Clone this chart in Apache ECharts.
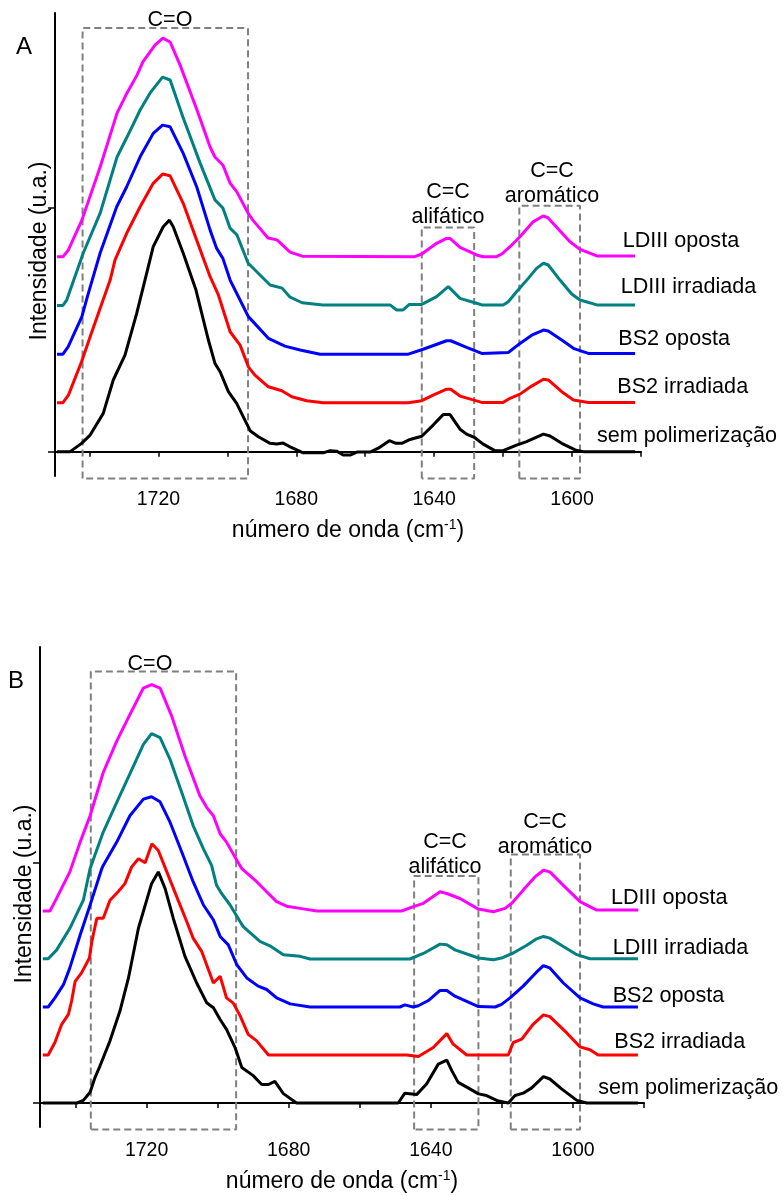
<!DOCTYPE html>
<html><head><meta charset="utf-8">
<script src="https://cdn.jsdelivr.net/npm/echarts@6/dist/echarts.min.js"></script>
<style>html,body{margin:0;padding:0;background:#fff}#c{width:783px;height:1196px}</style>
</head><body><div id="c"></div>
<script>
// ---------- data ----------
const seriesNames = ['LDIII oposta', 'LDIII irradiada', 'BS2 oposta', 'BS2 irradiada', 'sem polimerização'];
const seriesColors = ['#ff00ff', '#008080', '#0000ff', '#ff0000', '#000000'];
const xTickLabels = [1720, 1680, 1640, 1600];
const yTickValues = [0, 100];

// Panel A  [número de onda, intensidade]
const ldiiiOpostaA = [[1749.4,80],[1747.7,80],[1746.2,82.5],[1742.2,95],[1736.9,116.8],[1732,138.9],[1729.1,147.2],[1726.2,154.5],[1724.5,159.9],[1721,166.8],[1718.7,169.7],[1716.6,168.1],[1713.7,158.6],[1708.8,140.2],[1705,125],[1703.6,120.9],[1701.3,117.6],[1699.2,110.2],[1697.2,106.5],[1694,97.9],[1692.6,95],[1688.2,87.7],[1685.6,86.9],[1681.8,81.9],[1678.3,80.2],[1645.6,80],[1643.6,81.1],[1639.3,85.5],[1636.4,87.5],[1635.4,87.5],[1632.5,83.8],[1627.7,80.7],[1625.8,80],[1621.9,80],[1620.4,81.1],[1618,84.1],[1615.1,88.2],[1611.3,94.3],[1608.4,96.7],[1607,96],[1604.4,92],[1600.6,86.1],[1597.7,83],[1592.8,80.3],[1581.7,80.3]];
const ldiiiIrradiadaA = [[1749.4,60],[1747.7,60],[1746.6,62.2],[1741.8,81.5],[1736.9,97.9],[1732,120.9],[1729.1,129.1],[1725.3,140.2],[1722.4,147.2],[1718.8,153.7],[1716.6,152.5],[1712.9,137.3],[1707.9,118.4],[1703.6,103.3],[1701.3,100],[1699.2,91.7],[1697.2,88.9],[1694,77.4],[1691.4,73.7],[1687.6,68.4],[1684.1,67.1],[1681.8,63.4],[1678.3,61.1],[1672.3,60.2],[1652.8,60.2],[1650.9,58.1],[1649.1,58.1],[1647.2,60.4],[1643.6,60.4],[1639.3,63.6],[1635.9,67.7],[1632.5,62.9],[1627.7,60.9],[1626.2,60.2],[1620,60.2],[1618.5,61.5],[1616.1,65.6],[1612.7,71.1],[1610.3,75.2],[1608.3,77.3],[1606.9,76.6],[1603.5,70.4],[1600.1,64.7],[1597.7,62.2],[1592.8,60.2],[1581.7,60.2]];
const bs2OpostaA = [[1749.4,40],[1747.7,40],[1746.2,43],[1742.2,55.4],[1740.6,63.6],[1736.9,81.5],[1732.1,100.5],[1729.2,108.7],[1725.3,121],[1721.5,130.6],[1718.8,134],[1716.6,133.3],[1712.8,122.4],[1708.9,108.7],[1705,90.9],[1703.1,83.4],[1701.3,79.3],[1699.2,70.4],[1697.3,65],[1693.9,55.4],[1688.1,46.5],[1683.3,43.3],[1678.9,41.7],[1673.1,40],[1647.5,40],[1643.2,42],[1636.4,45.5],[1635.2,45.5],[1630.6,42.8],[1626.2,40.3],[1618.5,40.7],[1615.1,44.4],[1611.7,47.8],[1608.3,49.9],[1606.9,49.5],[1603,45.8],[1599.6,42.4],[1595.3,40.3],[1581.7,40.3]];
const bs2IrradiadaA = [[1749.4,20.1],[1747.7,20.1],[1746.1,23.2],[1742.3,36.9],[1739.8,47.1],[1736.9,58.8],[1734,70.4],[1732.6,78.6],[1729.2,89.6],[1725.3,100.5],[1721.5,110.1],[1718.8,113.9],[1716.6,113.2],[1712.8,101.9],[1708.9,86.8],[1705,71.8],[1702.6,64.3],[1699.2,49.2],[1696.3,43.7],[1693.9,34.8],[1692,31.4],[1688.1,26.6],[1684.2,25],[1681.3,22.5],[1677,20.9],[1672.2,20.1],[1647.5,20.1],[1643.6,20.9],[1640.3,23.2],[1636.4,25.6],[1635.2,25.6],[1632.5,22.8],[1626.2,20.2],[1620,20.2],[1618,21.9],[1615.1,23.6],[1611.7,26.9],[1608.3,29.7],[1606.9,29.4],[1603,24.6],[1599.6,21.2],[1595.3,20.2],[1581.7,20.2]];
const semPolimA = [[1749.4,0],[1745.6,0],[1742.3,3.4],[1739.8,6.8],[1736,15.7],[1733.1,29.4],[1729.7,39.6],[1726.3,56.7],[1723.9,70.4],[1721.5,84.1],[1718.6,92.3],[1716.8,95],[1715.7,92.3],[1712.8,81.4],[1709.1,66.3],[1705.5,45.8],[1703.6,36.2],[1702.1,32.8],[1699.7,24.6],[1697.3,19.8],[1693.4,8.6],[1691,6.1],[1687.6,3.4],[1685.7,3.1],[1683.8,3.5],[1681.3,1.6],[1678,-0.5],[1672.2,-0.5],[1670.2,0.4],[1668.3,0.2],[1666.4,-1.4],[1664.4,-1.4],[1662.4,-0.2],[1658.6,-0.2],[1656.2,1.4],[1653,4.5],[1651.1,3.4],[1649.4,3.4],[1647,5],[1643.6,6.3],[1640.3,10.9],[1637.4,15.2],[1635.4,15.2],[1632.5,9.2],[1630.6,7.2],[1628.2,5.7],[1625.8,3.1],[1622.4,0.4],[1620,0.4],[1616.1,2.7],[1613.2,4.1],[1608.3,7.2],[1606.4,6.4],[1603,3.4],[1599.1,0.7],[1596.7,0],[1581.7,0]];

// Panel B
const ldiiiOpostaB = [[1749.2,80],[1747.2,80],[1745.8,83.9],[1741.6,96.3],[1738.7,108.7],[1735.9,119.7],[1732.2,137.7],[1728.4,150.8],[1724.7,161.8],[1720.9,172.9],[1718.6,174.3],[1716.2,172.9],[1712.9,161.1],[1709.2,144.6],[1705,128],[1703.1,123.2],[1701.2,119.7],[1699.3,112.2],[1697.5,108.7],[1694.6,101.1],[1693.2,97.7],[1689,92.2],[1686.2,88],[1683.4,83.9],[1680.6,82],[1676.8,81.1],[1672.1,80],[1648.2,80],[1644.9,81.8],[1642.1,83.2],[1637.4,88],[1635.5,87.3],[1631.8,85.2],[1626.6,80.8],[1622.4,79.7],[1619.1,81.1],[1617.2,83.2],[1614,88.7],[1610.7,94.2],[1608.3,97],[1606.5,96.3],[1602.7,90.7],[1598,83.9],[1593.3,80.4],[1581.6,80.4]];
const ldiiiIrradiadaB = [[1749.2,60.1],[1747.7,60.1],[1745.3,63.8],[1741.6,72.8],[1737.8,84.5],[1735.9,97.7],[1732.2,112.9],[1728.4,125.3],[1723.7,140.4],[1720.9,149.4],[1718.6,153.9],[1716.2,152.2],[1713.4,143.2],[1710.1,129.4],[1706.9,115.6],[1704,105.9],[1701.7,99],[1700.3,90.7],[1698.9,87.3],[1696.5,82.5],[1693.7,75.6],[1692.8,73.5],[1688.1,67.3],[1685.3,65.5],[1681.5,61.8],[1676.8,61.1],[1674,60],[1645.9,60],[1642.1,62.3],[1637.4,66.2],[1635.5,65.9],[1633.2,63.8],[1626.6,60.4],[1622.4,59.7],[1620.1,60.4],[1616.8,62.5],[1613,65.7],[1610.2,68.4],[1608.3,69.4],[1606.5,68.7],[1602.7,65.2],[1598.9,61.8],[1595.2,60.1],[1581.7,60.1]];
const bs2OpostaB = [[1749.2,40],[1747.7,40],[1745.8,43.8],[1743.4,49.3],[1741.6,56.3],[1738.7,70],[1735.9,82.5],[1732.6,97.7],[1732.2,99],[1728.4,108.7],[1724.7,119.7],[1720.9,126.6],[1718.6,127.6],[1716.2,125.5],[1713.4,117],[1710.1,104.6],[1706.9,92.2],[1704,82.5],[1701.2,76.3],[1699.3,69.4],[1697,65.9],[1694.6,57.6],[1691.8,52.1],[1688.6,48.7],[1686.2,47.3],[1683.4,43.8],[1679.6,41.3],[1674,40],[1648.7,40],[1647.3,40.9],[1645,40],[1643.5,40.5],[1640.7,42.7],[1637.4,46.9],[1635.5,46.9],[1633.2,44.5],[1626.6,40.2],[1621.9,40],[1620.1,41.1],[1617.7,43.8],[1614,48.7],[1610.2,54.6],[1608.3,57.2],[1606.5,56.3],[1602.7,50],[1598,43.8],[1594.3,41.3],[1591.5,40],[1581.7,40]];
const bs2IrradiadaB = [[1749.2,20],[1747.7,20],[1745.8,25.2],[1743.9,32.8],[1742,36.9],[1741.1,42.5],[1740.1,50.7],[1738.3,54.2],[1736.1,60.4],[1735.4,67.3],[1734,77],[1732.2,77],[1730.3,84.5],[1728,88],[1726.1,91.4],[1724.2,98.4],[1722.3,101.8],[1720.4,100.1],[1718.5,108],[1716.7,105.2],[1714.3,96.3],[1711.5,85.9],[1708.7,75.6],[1706.9,68.7],[1704.5,63.2],[1701.2,50],[1699.3,52.8],[1697.5,43.8],[1695.6,41.6],[1693.7,36.4],[1691.4,28.6],[1689,25.9],[1685.7,20],[1646.8,20],[1643.5,19.4],[1639.3,23.1],[1635.5,28.9],[1633.7,24.5],[1629.9,20],[1618.2,20],[1616.8,25.2],[1614.4,26.6],[1611.2,32.8],[1608.3,36.7],[1606.5,36],[1601.8,29.3],[1598,23.4],[1595.2,22.2],[1592.9,20],[1581.7,20]];
const semPolimB = [[1749.2,0],[1739.6,0],[1737.8,1.1],[1735.9,4.5],[1734.5,10.7],[1733.1,15.5],[1730.3,25.9],[1727.5,38.3],[1725.1,52.1],[1722.3,72.8],[1718.6,91.4],[1716.7,96.3],[1714.8,89.4],[1712.5,77],[1709.2,61.1],[1705.9,50],[1703.1,41.8],[1701.2,39.7],[1699.3,34.8],[1697.5,30.7],[1695.1,23.1],[1693.2,14.8],[1690,11.4],[1687.6,7.7],[1685.7,7.7],[1683.9,9],[1681.5,3.9],[1677.8,0],[1649.2,0],[1647.3,4.1],[1644,3.5],[1641.2,7.9],[1637.9,16.2],[1635.5,17.9],[1634.1,13.5],[1632.3,8.6],[1629.5,6.3],[1626.6,3.8],[1624.3,3.1],[1621,0.8],[1618.2,0],[1616.3,3.1],[1614,4.1],[1611.6,6.3],[1608.3,11],[1606.5,10],[1603.2,5.9],[1598.9,1.1],[1596.1,0],[1581.7,0]];

// band boxes [from, to, top] in data units
const bandLabels = ['C=O', 'C=C\nalifático', 'C=C\naromático'];
const boxesA = [[1742, 1694, 173.8], [1643.6, 1628.4, 92], [1615.3, 1597.7, 100.9]];
const boxesB = [[1735.7, 1694.8, 179.8], [1644.7, 1626.6, 94.6], [1617.5, 1598, 103.5]];

const panelA = [ldiiiOpostaA, ldiiiIrradiadaA, bs2OpostaA, bs2IrradiadaA, semPolimA];
const panelB = [ldiiiOpostaB, ldiiiIrradiadaB, bs2OpostaB, bs2IrradiadaB, semPolimB];

// ---------- chart ----------
const FONT = '"Liberation Sans", Arial, sans-serif';
const chart = echarts.init(document.getElementById('c'), null, {renderer: 'canvas'});

function xAxisFor(gi, nameGap) {
  return {
    type: 'value', gridIndex: gi, min: 1580, max: 1750, interval: 20, inverse: true,
    axisLine: {show: true, lineStyle: {color: '#000', width: 2}},
    axisTick: {show: true, length: 5, lineStyle: {color: '#000', width: 1.5}},
    axisLabel: {
      color: '#000', fontSize: 19.5, fontFamily: FONT, margin: 14,
      formatter: v => xTickLabels.indexOf(v) >= 0 ? String(v) : ''
    },
    splitLine: {show: false},
    name: 'número de onda (cm{sup|-1})',
    nameLocation: 'middle', nameGap: nameGap,
    nameTextStyle: {
      color: '#000', fontSize: 23, fontFamily: FONT, lineHeight: 26,
      rich: {sup: {fontSize: 14, fontFamily: FONT, color: '#000', verticalAlign: 'top', lineHeight: 14}}
    }
  };
}
function yAxisFor(gi, max) {
  return {
    type: 'value', gridIndex: gi, min: -10, max: max,
    axisLine: {show: true, lineStyle: {color: '#000', width: 2}},
    axisTick: {show: true, length: 7, customValues: yTickValues, lineStyle: {color: '#000', width: 1.5}},
    axisLabel: {show: false},
    splitLine: {show: false}
  };
}

const series = [];
function addBoxes(boxes, gi) {
  boxes.forEach(b => {
    series.push({
      type: 'line', xAxisIndex: gi, yAxisIndex: gi, z: 1, clip: false, silent: true,
      symbol: 'none',
      lineStyle: {color: '#808080', width: 2, type: [7, 4]},
      data: [[b[0], -11], [b[0], b[2]], [b[1], b[2]], [b[1], -11], [b[0], -11]]
    });
  });
}
function addSpectra(list, gi) {
  list.forEach((d, i) => {
    series.push({
      name: seriesNames[i], type: 'line', xAxisIndex: gi, yAxisIndex: gi, z: 3,
      symbol: 'none', showSymbol: false,
      lineStyle: {color: seriesColors[i], width: 3},
      data: d
    });
  });
}
addBoxes(boxesA, 0); addBoxes(boxesB, 1);
addSpectra(panelA, 0); addSpectra(panelB, 1);

function txt(text, x, y, size, align, extra) {
  return Object.assign({
    type: 'text', x: x, y: y, silent: true,
    style: {text: text, fontSize: size, fontFamily: FONT, fill: '#000', align: align || 'center', verticalAlign: 'middle'}
  }, extra || {});
}
const bandA = bandLabels.map(s => s.split('\n'));
const graphics = [
  // panel A
  txt('A', 24, 47, 24),
  txt(bandA[0][0], 170, 20, 21.5),
  txt(bandA[1][0], 448, 192.5, 21.5), txt(bandA[1][1], 448, 217, 21.5),
  txt(bandA[2][0], 552, 171, 21.5), txt(bandA[2][1], 552, 196, 21.5),
  txt(seriesNames[0], 622.7, 241, 21.6, 'left'),
  txt(seriesNames[1], 620.7, 287.5, 21.6, 'left'),
  txt(seriesNames[2], 618.3, 339, 21.6, 'left'),
  txt(seriesNames[3], 617.3, 387.5, 21.6, 'left'),
  txt(seriesNames[4], 597, 436, 21.6, 'left'),
  txt('Intensidade (u.a.)', 39.5, 251, 23, 'center', {rotation: Math.PI / 2}),
  // panel B
  txt('B', 16, 681, 24),
  txt(bandA[0][0], 150, 664, 21.5),
  txt(bandA[1][0], 445, 842.5, 21.5), txt(bandA[1][1], 445, 867.5, 21.5),
  txt(bandA[2][0], 545, 822, 21.5), txt(bandA[2][1], 545, 847, 21.5),
  txt(seriesNames[0], 611, 898, 21.6, 'left'),
  txt(seriesNames[1], 612.7, 948, 21.6, 'left'),
  txt(seriesNames[2], 612.7, 996, 21.6, 'left'),
  txt(seriesNames[3], 614.3, 1042.5, 21.6, 'left'),
  txt(seriesNames[4], 598.3, 1088, 21.6, 'left'),
  txt('Intensidade (u.a.)', 25, 894, 23, 'center', {rotation: Math.PI / 2})
];

chart.setOption({
  animation: false,
  backgroundColor: '#fff',
  grid: [
    {left: 55, top: 13, width: 586, height: 463},
    {left: 40, top: 647, width: 604, height: 483}
  ],
  xAxis: [xAxisFor(0, 42), xAxisFor(1, 42)],
  yAxis: [yAxisFor(0, 180), yAxisFor(1, 190)],
  series: series,
  graphic: graphics
});
</script>
</body></html>
